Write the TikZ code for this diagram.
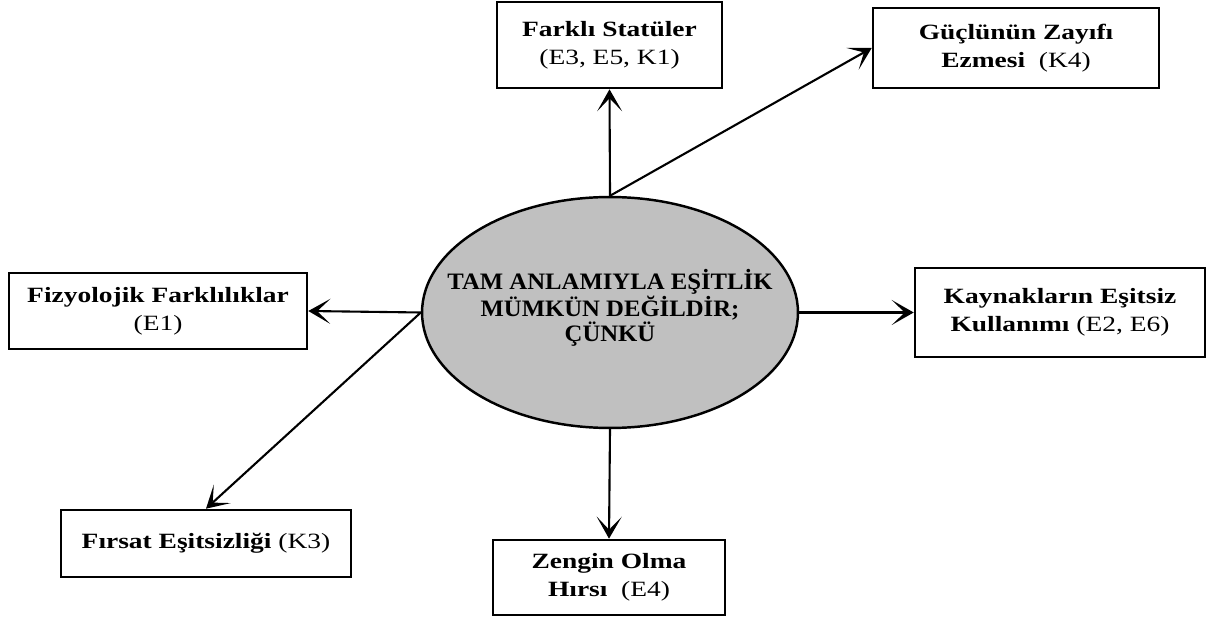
\documentclass[tikz,border=0pt]{standalone}
\usepackage{fontspec}
\setmainfont{Liberation Serif}
\newfontfamily\boxfont{Liberation Serif}[FakeStretch=1.26]
\newfontfamily\ellfont{Liberation Serif}[FakeStretch=1.05]
\usetikzlibrary{shapes.geometric,arrows.meta}
\definecolor{ellgray}{RGB}{192,192,192}

\begin{document}
\begin{tikzpicture}[x=0.02cm,y=-0.02cm,
  kutu/.style={draw,line width=1.5pt,align=center,inner sep=0pt,
    font=\boxfont\fontsize{12.4}{16}\selectfont},
  ok/.style={line width=1.2pt,-{Stealth[length=4.4mm,width=5mm,inset=2.6mm]}}]
  \useasboundingbox (0,0) rectangle (1213,621);
  % centre
  \node (merkez) [ellipse,draw,line width=1.4pt,fill=ellgray,inner sep=0pt,
    minimum width=7.52cm,minimum height=4.62cm] at (610,312.5) {};
  \node (merkezyazi) [align=center,font=\ellfont\bfseries\fontsize{13.4}{14.2}\selectfont]
    at (610,308) {TAM ANLAMIYLA EŞİTLİK\\MÜMKÜN DEĞİLDİR;\\ÇÜNKÜ};
  % reasons
  \node (farkli) [kutu,minimum width=4.5cm,minimum height=1.72cm] at (609.5,45)
    {\textbf{Farklı Statüler}\\(E3, E5, K1)};
  \node (guclu) [kutu,minimum width=5.72cm,minimum height=1.6cm] at (1016,48)
    {\textbf{Güçlünün Zayıfı}\\\textbf{Ezmesi}\ \ (K4)};
  \node (fizyo) [kutu,minimum width=5.96cm,minimum height=1.52cm] at (158,311)
    {\textbf{Fizyolojik Farklılıklar}\\(E1)};
  \node (kaynak) [kutu,minimum width=5.8cm,minimum height=1.78cm] at (1060,312.5)
    {\textbf{Kaynakların Eşitsiz}\\\textbf{Kullanımı} (E2, E6)};
  \node (firsat) [kutu,minimum width=5.8cm,minimum height=1.34cm] at (206,543.5)
    {\textbf{Fırsat Eşitsizliği} (K3)};
  \node (zengin) [kutu,minimum width=4.64cm,minimum height=1.5cm] at (609,577.5)
    {\textbf{Zengin Olma}\\\textbf{Hırsı}\ \ (E4)};
  % arrows
  \draw[ok] (merkez.north) -- (farkli.south);
  \draw[ok] (merkez.north) -- (guclu.west);
  \draw[ok] (merkez.west) -- (fizyo.east);
  \draw[ok] (merkez.east) -- (kaynak.west);
  \draw[ok] (merkez.west) -- (firsat.north);
  \draw[ok] (merkez.south) -- (zengin.north);
\end{tikzpicture}
\end{document}
